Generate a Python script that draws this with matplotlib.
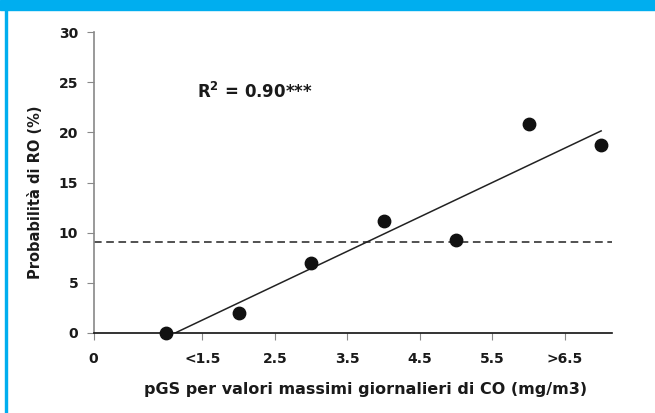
import numpy as np
import matplotlib
import matplotlib.pyplot as plt
from matplotlib.patches import Rectangle

matplotlib.use("Agg")

# Data
classes = [1, 2, 3, 4, 5, 6, 7]
prob_ro = [0.0, 2.0, 7.0, 11.2, 9.3, 20.8, 18.7]
baseline = 9.1
tick_pos = [0, 1.5, 2.5, 3.5, 4.5, 5.5, 6.5]
tick_labels = ["0", "<1.5", "2.5", "3.5", "4.5", "5.5", ">6.5"]
r2_text = "R$^2$ = 0.90***"

plt.rcParams['font.family'] = ['DejaVu Sans']
plt.rcParams['font.weight'] = 'bold'
txt_col = "#1a1a1a"

fig = plt.figure(figsize=(6.55, 4.13), dpi=100)

# blue frame (top band + left line)
fig.patches.append(Rectangle((0, 1 - 10 / 413), 1, 10 / 413, transform=fig.transFigure,
                             color="#00aeef", zorder=0))
fig.patches.append(Rectangle((5 / 655, 0), 2 / 655, 1, transform=fig.transFigure,
                             color="#00aeef", zorder=0))

ax = fig.add_axes([93.5 / 655, 80 / 413, (612 - 93.5) / 655, (333 - 32) / 413])

# regression line
slope, intercept = np.polyfit(classes, prob_ro, 1)
x0 = -intercept / slope
xs = np.array([x0, classes[-1]])
ax.plot(xs, slope * xs + intercept, color="#222222", linewidth=1.1, zorder=2)

# reference level
ax.axhline(baseline, color="#222222", linestyle=(0, (5, 3)), linewidth=1.1, zorder=1)

ax.scatter(classes, prob_ro, s=80, color="#111111", zorder=3, clip_on=False)

ax.text(1.43, 24.0, r2_text, fontsize=12, fontweight='bold', color=txt_col, va="center")

ax.set_xlim(0, 7.15)
ax.set_ylim(0, 30)
ax.set_yticks(range(0, 31, 5))
ax.set_xticks(tick_pos)
ax.set_xticklabels(tick_labels)

for s in ["top", "right"]:
    ax.spines[s].set_visible(False)
ax.spines["left"].set_color("#888888")
ax.spines["left"].set_linewidth(1.2)
ax.spines["bottom"].set_color("#111111")
ax.spines["bottom"].set_linewidth(1.2)

ax.tick_params(axis="y", length=5, color="#888888", labelsize=10, pad=6, labelcolor=txt_col)
ax.tick_params(axis="x", length=5, color="#888888", labelsize=10, pad=9, labelcolor=txt_col)

ax.set_ylabel("Probabilità di RO (%)", fontsize=10.5, fontweight='bold', color=txt_col)
ax.set_xlabel("pGS per valori massimi giornalieri di CO (mg/m3)", fontsize=11.5,
              fontweight='bold', color=txt_col)
ax.yaxis.set_label_coords(-0.097, 0.468)
ax.xaxis.set_label_coords(0.5256, -0.163)

fig.savefig("out.png", dpi=100)
plt.close(fig)
